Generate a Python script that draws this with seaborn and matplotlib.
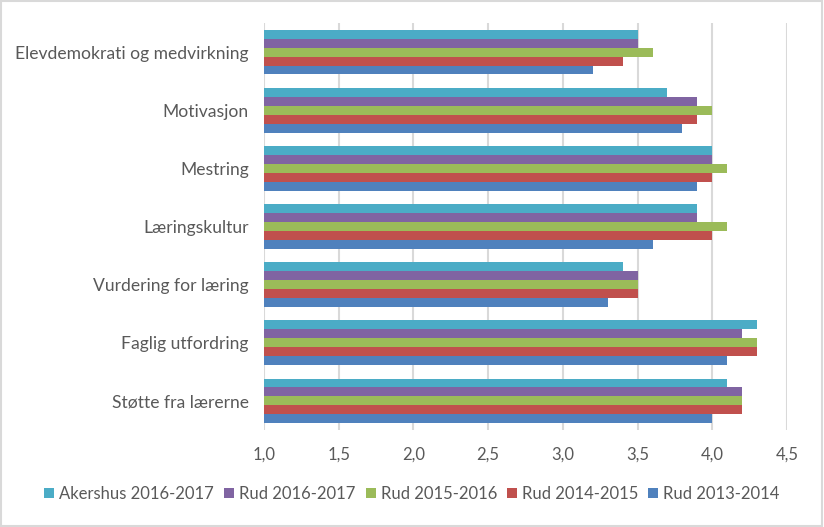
import pandas as pd
import numpy as np
import matplotlib.pyplot as plt
import seaborn as sns
from matplotlib.patches import Rectangle
from matplotlib.ticker import FuncFormatter

categories = ['Elevdemokrati og medvirkning', 'Motivasjon', 'Mestring', 'Læringskultur',
              'Vurdering for læring', 'Faglig utfordring', 'Støtte fra lærerne']
series = ['Akershus 2016-2017', 'Rud 2016-2017', 'Rud 2015-2016', 'Rud 2014-2015', 'Rud 2013-2014']
akershus_1617 = [3.5, 3.7, 4.0, 3.9, 3.4, 4.3, 4.1]
rud_1617 = [3.5, 3.9, 4.0, 3.9, 3.5, 4.2, 4.2]
rud_1516 = [3.6, 4.0, 4.1, 4.1, 3.5, 4.3, 4.2]
rud_1415 = [3.4, 3.9, 4.0, 4.0, 3.5, 4.3, 4.2]
rud_1314 = [3.2, 3.8, 3.9, 3.6, 3.3, 4.1, 4.0]
colors = ['#4BACC6', '#8064A2', '#9BBB59', '#C0504D', '#4F81BD']

values = [akershus_1617, rud_1617, rud_1516, rud_1415, rud_1314]
df = pd.DataFrame([(c, s, v) for s, vals in zip(series, values) for c, v in zip(categories, vals)],
                  columns=['kategori', 'serie', 'verdi'])

sns.set_style('white')
plt.rcParams['font.family'] = ['Lato', 'DejaVu Sans']

fig = plt.figure(figsize=(8.24, 5.27), dpi=100)
ax = fig.add_axes([264 / 824, 1 - 430 / 527, (787 - 264) / 824, (430 - 23) / 527])

sns.barplot(data=df, y='kategori', x='verdi', hue='serie', order=categories, hue_order=series,
            palette=colors, orient='h', width=0.77, saturation=1, linewidth=0, ax=ax, legend=True)

ax.set_xlim(1.0, 4.5)
ax.set_xticks(np.arange(1.0, 4.51, 0.5))
ax.xaxis.set_major_formatter(FuncFormatter(lambda v, p: f'{v:.1f}'.replace('.', ',')))
ax.grid(axis='x', color='#D9D9D9', linewidth=1.5)
ax.set_axisbelow(True)
for sp in ax.spines.values():
    sp.set_visible(False)
ax.set_xlabel('')
ax.set_ylabel('')
ax.tick_params(axis='x', length=0, pad=12, labelsize=12, labelcolor='#595959')
ax.tick_params(axis='y', length=0, pad=11, labelsize=12.6, labelcolor='#595959')

handles, labels = ax.get_legend_handles_labels()
ax.get_legend().remove()
fig.legend(handles, labels, loc='center', bbox_to_anchor=(0.5, 1 - 494 / 527), ncol=5,
           frameon=False, fontsize=12, handlelength=0.6, handleheight=0.6, handletextpad=0.3,
           columnspacing=0.6, labelcolor='#595959')

fig.add_artist(Rectangle((0.001, 0.001), 0.997, 0.997, transform=fig.transFigure,
                         fill=False, edgecolor='#D9D9D9', linewidth=1.5))

fig.savefig('out.png', dpi=100)
